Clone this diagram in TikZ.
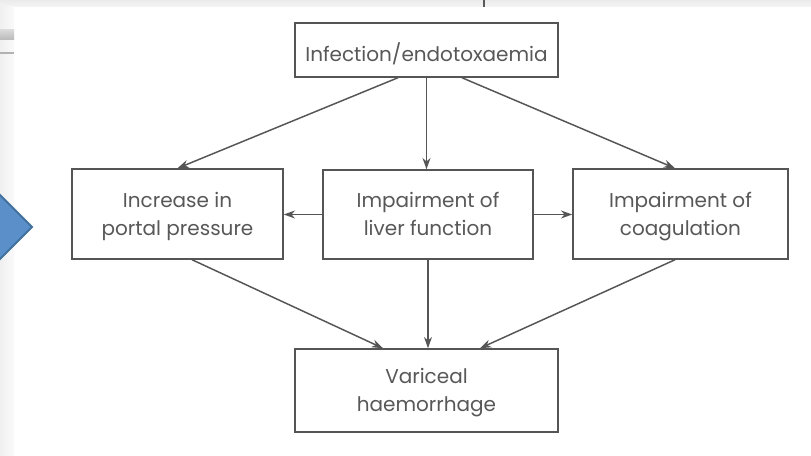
\documentclass[tikz,border=0pt]{standalone}
\usepackage{fontspec}
\setmainfont{Poppins}
\usetikzlibrary{arrows,arrows.meta,calc}
\definecolor{boxgray}{HTML}{555555}
\definecolor{txtgray}{HTML}{585858}
\definecolor{chevfill}{HTML}{5B8FC9}
\definecolor{chevline}{HTML}{41719C}
\newcommand{\twolines}[2]{\begin{tabular}{@{}c@{}}\rule{0pt}{17pt}#1\\#2\end{tabular}}
\tikzset{stage/.style={rectangle,draw=boxgray,line width=1.1pt,fill=white,align=center,text=txtgray,inner sep=0pt,font=\fontsize{15}{21}\selectfont}}
\tikzset{flow/.style={draw=boxgray,line width=1.1pt,-{Stealth[length=8.5pt,width=6pt]}}}

\begin{document}
\begin{tikzpicture}[x=0.75pt,y=0.75pt]
\useasboundingbox (0,0) rectangle (811,456);
% window edges behind the chart
\fill[white] (0,0) rectangle (811,456);
\shade[top color=gray!16,bottom color=gray!8] (0,449) rectangle (811,456);
\draw[gray!70!black,line width=1pt] (484,449)--(484,456);
\shade[left color=gray!12,right color=gray!4] (0,0) rectangle (14,449);
\shade[top color=gray!30,bottom color=gray!55] (0,416) rectangle (14,426);
\draw[gray!60,line width=1pt] (0,403)--(14,403);
\filldraw[fill=chevfill,draw=chevline,line width=1.5pt] (-6,267)--(32,229)--(-6,191)--cycle;

\node (infect) at (426.5,406) [stage,minimum width=197.25pt,minimum height=40.5pt] {\rule{0pt}{23pt}Infection/endotoxaemia\strut};
\node (portal) at (177.5,242) [stage,minimum width=158.25pt,minimum height=67.5pt] {\twolines{Increase in}{portal pressure}};
\node (liver) at (428,241.5) [stage,minimum width=157.5pt,minimum height=66.75pt] {\twolines{Impairment of}{liver function}};
\node (coag) at (680.5,242) [stage,minimum width=161.25pt,minimum height=67.5pt] {\twolines{Impairment of}{coagulation}};
\node (bleed) at (426.5,65.5) [stage,minimum width=197.25pt,minimum height=62.25pt] {\twolines{Variceal}{haemorrhage}};

\draw[flow] ([xshift=-21.4pt]infect.south)--(portal.north);
\draw[flow] (infect.south)--(infect.south |- liver.north);
\draw[flow] ([xshift=26.6pt]infect.south)--([xshift=-4.1pt]coag.north);
\draw[flow] (liver.west)--(liver.west -| portal.east);
\draw[flow] (liver.east)--(liver.east -| coag.west);
\draw[flow] ([xshift=10.9pt]portal.south)--([xshift=-32.6pt]bleed.north);
\draw[flow] (liver.south)--(liver.south |- bleed.north);
\draw[flow] ([xshift=-4.1pt]coag.south)--([xshift=40.1pt]bleed.north);
\end{tikzpicture}
\end{document}
